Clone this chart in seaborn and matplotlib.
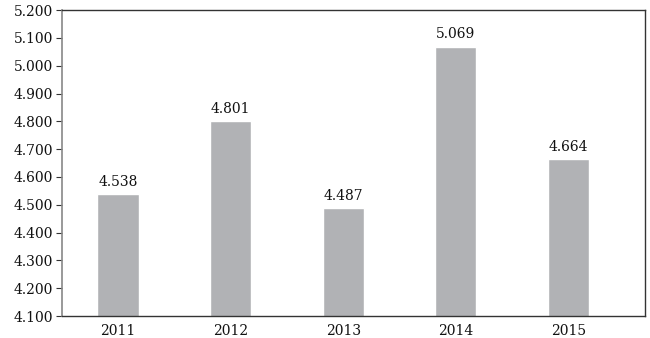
import pandas as pd
import numpy as np
import matplotlib
matplotlib.use("Agg")
import matplotlib.pyplot as plt
import seaborn as sns

years = ["2011", "2012", "2013", "2014", "2015"]
values = [4.538, 4.801, 4.487, 5.069, 4.664]
y_ticks = [4.1, 4.2, 4.3, 4.4, 4.5, 4.6, 4.7, 4.8, 4.9, 5.0, 5.1, 5.2]

sns.set_style("white")
plt.rcParams['font.family'] = ['DejaVu Serif']

df = pd.DataFrame({'year': years, 'value': values})

fig = plt.figure(figsize=(6.5, 3.38), dpi=100)
ax = fig.add_axes([0.095, 0.065, 0.897, 0.905])

sns.barplot(data=df, x='year', y='value', color='#b1b2b5', width=0.365,
            saturation=1, ax=ax)

for container in ax.containers:
    ax.bar_label(container, labels=[f"{v:.3f}" for v in values], padding=4,
                 fontsize=10, color='#111111')

ax.set_ylim(4.1, 5.2)
ax.set_xlim(-0.5, 4.68)
ax.set_yticks(y_ticks)
ax.set_yticklabels([f"{t:.3f}" for t in y_ticks], fontsize=10, color='#111111')
ax.tick_params(axis='y', left=True, length=4, width=0.8, color='#333333', pad=2)
ax.tick_params(axis='x', bottom=False, labelsize=10, labelcolor='#111111', pad=2)
ax.set_xlabel("")
ax.set_ylabel("")

for side in ['top', 'right', 'bottom']:
    ax.spines[side].set_color('#333333')
    ax.spines[side].set_linewidth(1.0)
ax.spines['left'].set_color('#888888')
ax.spines['left'].set_linewidth(1.2)

fig.savefig("out.png", dpi=100)
